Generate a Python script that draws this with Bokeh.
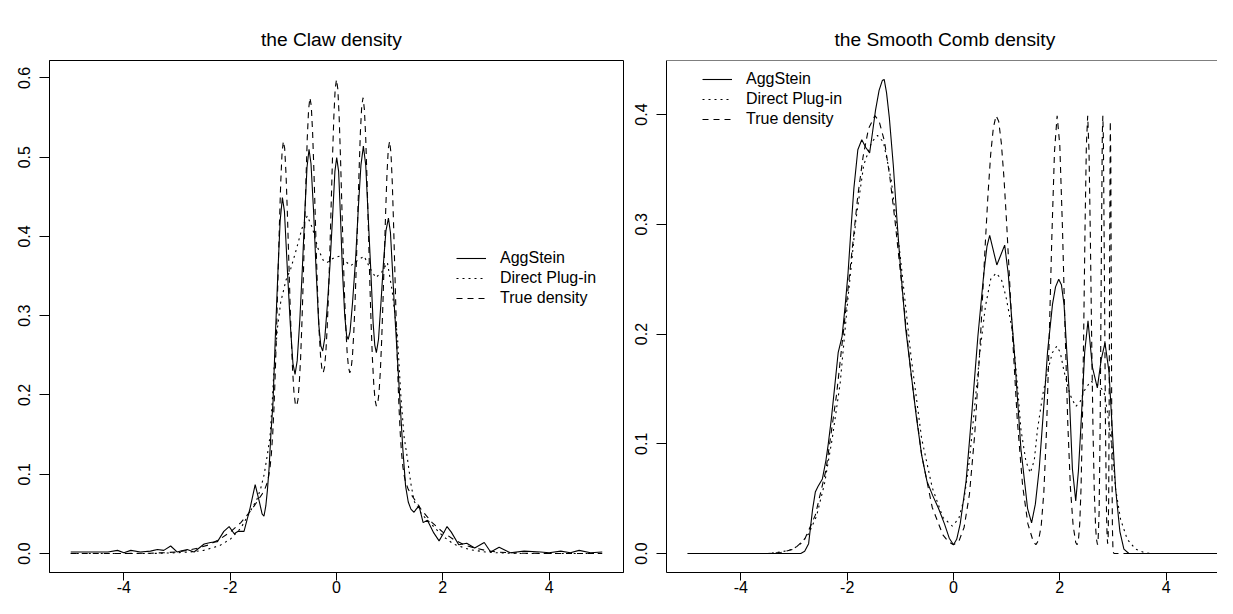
from bokeh.plotting import figure
from bokeh.models import Range1d, FixedTicker, PrintfTickFormatter, Legend, LegendItem, Span, Title
from bokeh.layouts import row
from bokeh.embed import file_html
from bokeh.resources import INLINE

FONT = "Liberation Sans"

titles = ["the Claw density", "the Smooth Comb density"]
legend_labels = ["AggStein", "Direct Plug-in", "True density"]
x_ticks = [-4, -2, 0, 2, 4]
claw_y_ticks = [0.0, 0.1, 0.2, 0.3, 0.4, 0.5, 0.6]
comb_y_ticks = [0.0, 0.1, 0.2, 0.3, 0.4]

# ---- Claw density: (x, density) ----
claw_aggstein = [
    (-5.0, 0.002), (-4.6, 0.002), (-4.3, 0.002), (-4.12, 0.004), (-4.0, 0.001), (-3.87, 0.004),
    (-3.69, 0.002), (-3.5, 0.003), (-3.37, 0.005), (-3.25, 0.004), (-3.12, 0.0095), (-3.0, 0.002),
    (-2.81, 0.005), (-2.68, 0.002), (-2.49, 0.012), (-2.37, 0.014), (-2.24, 0.015), (-2.12, 0.028),
    (-2.02, 0.034), (-1.925, 0.025), (-1.85, 0.028), (-1.74, 0.028), (-1.627, 0.057), (-1.53, 0.087),
    (-1.45, 0.065), (-1.40, 0.050), (-1.365, 0.047), (-1.33, 0.060), (-1.30, 0.080), (-1.27, 0.106),
    (-1.235, 0.150), (-1.195, 0.190), (-1.15, 0.275), (-1.10, 0.359), (-1.06, 0.420), (-1.018, 0.449),
    (-0.98, 0.432), (-0.925, 0.359), (-0.87, 0.290), (-0.82, 0.240), (-0.78, 0.226), (-0.74, 0.243),
    (-0.69, 0.295), (-0.643, 0.359), (-0.60, 0.425), (-0.555, 0.487), (-0.517, 0.510), (-0.48, 0.492),
    (-0.43, 0.430), (-0.385, 0.359), (-0.335, 0.290), (-0.295, 0.262), (-0.26, 0.2555), (-0.22, 0.272),
    (-0.17, 0.315), (-0.122, 0.365), (-0.07, 0.430), (-0.03, 0.482), (0.004, 0.4995), (0.04, 0.482),
    (0.075, 0.425), (0.11, 0.359), (0.155, 0.300), (0.19, 0.275), (0.22, 0.270), (0.255, 0.280),
    (0.30, 0.315), (0.36, 0.372), (0.41, 0.435), (0.46, 0.490), (0.506, 0.514), (0.55, 0.490),
    (0.60, 0.420), (0.644, 0.359), (0.69, 0.290), (0.72, 0.263), (0.75, 0.2535), (0.79, 0.270),
    (0.84, 0.320), (0.882, 0.365), (0.93, 0.407), (0.977, 0.423), (1.015, 0.405), (1.052, 0.359),
    (1.09, 0.310), (1.13, 0.265), (1.196, 0.190), (1.25, 0.130), (1.30, 0.085), (1.35, 0.065),
    (1.40, 0.056), (1.459, 0.052), (1.50, 0.056), (1.553, 0.060), (1.63, 0.039), (1.71, 0.042),
    (1.83, 0.026), (1.93, 0.016), (2.00, 0.024), (2.08, 0.034), (2.16, 0.027), (2.30, 0.011),
    (2.45, 0.013), (2.60, 0.007), (2.78, 0.014), (2.90, 0.002), (3.06, 0.008), (3.27, 0.001),
    (3.53, 0.003), (3.84, 0.002), (4.0, 0.001), (4.22, 0.003), (4.4, 0.001), (4.565, 0.004),
    (4.78, 0.001), (5.0, 0.002),
]
claw_plugin = [
    (-5.0, 0.0), (-3.5, 0.0), (-3.0, 0.001), (-2.75, 0.002), (-2.5, 0.004), (-2.3, 0.008),
    (-2.2, 0.010), (-2.0, 0.018), (-1.8, 0.032), (-1.65, 0.050), (-1.5, 0.068), (-1.43, 0.081),
    (-1.36, 0.100), (-1.30, 0.125), (-1.25, 0.148), (-1.21, 0.190), (-1.176, 0.232), (-1.11, 0.285),
    (-1.05, 0.317), (-0.95, 0.345), (-0.862, 0.359), (-0.75, 0.385), (-0.65, 0.410), (-0.55, 0.426),
    (-0.45, 0.410), (-0.35, 0.385), (-0.25, 0.370), (-0.18, 0.367), (-0.05, 0.373), (0.08, 0.3755),
    (0.18, 0.368), (0.267, 0.363), (0.40, 0.370), (0.52, 0.375), (0.63, 0.360), (0.74, 0.348),
    (0.85, 0.355), (0.958, 0.367), (1.05, 0.330), (1.146, 0.274), (1.21, 0.200), (1.27, 0.148),
    (1.334, 0.120), (1.40, 0.088), (1.46, 0.066), (1.6, 0.050), (1.8, 0.036), (2.0, 0.022),
    (2.2, 0.012), (2.5, 0.005), (2.8, 0.002), (3.0, 0.001), (3.5, 0.0), (5.0, 0.0),
]
claw_true = [
    (-5, 0.0), (-4, 0.0001), (-3.5, 0.0004), (-3.25, 0.001), (-3, 0.002), (-2.8, 0.004), (-2.6, 0.007),
    (-2.4, 0.011), (-2.2, 0.018), (-2, 0.027), (-1.9, 0.033), (-1.8, 0.039), (-1.7, 0.047), (-1.6, 0.055),
    (-1.5, 0.065), (-1.45, 0.070), (-1.4, 0.075), (-1.35, 0.081), (-1.3, 0.090), (-1.275, 0.098),
    (-1.25, 0.109), (-1.225, 0.126), (-1.2, 0.151), (-1.175, 0.186), (-1.15, 0.232), (-1.125, 0.289),
    (-1.1, 0.351), (-1.075, 0.413), (-1.05, 0.467), (-1.025, 0.505), (-1, 0.520), (-0.975, 0.511),
    (-0.95, 0.479), (-0.925, 0.431), (-0.9, 0.375), (-0.875, 0.319), (-0.85, 0.269), (-0.825, 0.230),
    (-0.8, 0.203), (-0.775, 0.189), (-0.75, 0.186), (-0.725, 0.194), (-0.7, 0.215), (-0.675, 0.247),
    (-0.65, 0.292), (-0.625, 0.347), (-0.6, 0.409), (-0.575, 0.470), (-0.55, 0.524), (-0.525, 0.560),
    (-0.5, 0.575), (-0.475, 0.565), (-0.45, 0.532), (-0.425, 0.483), (-0.4, 0.426), (-0.375, 0.369),
    (-0.35, 0.318), (-0.325, 0.278), (-0.3, 0.249), (-0.275, 0.233), (-0.25, 0.228), (-0.225, 0.235),
    (-0.2, 0.254), (-0.175, 0.285), (-0.15, 0.328), (-0.125, 0.381), (-0.1, 0.441), (-0.075, 0.500),
    (-0.05, 0.551), (-0.025, 0.586), (0, 0.598), (0.025, 0.586), (0.05, 0.551), (0.075, 0.500),
    (0.1, 0.441), (0.125, 0.381), (0.15, 0.328), (0.175, 0.285), (0.2, 0.254), (0.225, 0.235),
    (0.25, 0.228), (0.275, 0.233), (0.3, 0.249), (0.325, 0.278), (0.35, 0.318), (0.375, 0.369),
    (0.4, 0.426), (0.425, 0.483), (0.45, 0.532), (0.475, 0.565), (0.5, 0.575), (0.525, 0.560),
    (0.55, 0.524), (0.575, 0.470), (0.6, 0.409), (0.625, 0.347), (0.65, 0.292), (0.675, 0.247),
    (0.7, 0.215), (0.725, 0.194), (0.75, 0.186), (0.775, 0.189), (0.8, 0.203), (0.825, 0.230),
    (0.85, 0.269), (0.875, 0.319), (0.9, 0.375), (0.925, 0.431), (0.95, 0.479), (0.975, 0.511),
    (1, 0.520), (1.025, 0.505), (1.05, 0.467), (1.075, 0.413), (1.1, 0.351), (1.125, 0.289),
    (1.15, 0.232), (1.175, 0.186), (1.2, 0.151), (1.225, 0.126), (1.25, 0.109), (1.275, 0.098),
    (1.3, 0.090), (1.35, 0.081), (1.4, 0.075), (1.45, 0.070), (1.5, 0.065), (1.6, 0.055), (1.7, 0.047),
    (1.8, 0.039), (1.9, 0.033), (2, 0.027), (2.2, 0.018), (2.4, 0.011), (2.6, 0.007), (2.8, 0.004),
    (3, 0.002), (3.25, 0.001), (3.5, 0.0004), (4, 0.0001), (5, 0.0),
]

# ---- Smooth Comb density ----
comb_aggstein = [
    (-5.0, 0.0), (-2.874, 0.0), (-2.8, 0.002), (-2.726, 0.009), (-2.652, 0.040), (-2.6, 0.056),
    (-2.55, 0.061), (-2.467, 0.068), (-2.40, 0.085), (-2.356, 0.100), (-2.30, 0.122), (-2.244, 0.148),
    (-2.17, 0.183), (-2.096, 0.198), (-2.04, 0.225), (-1.985, 0.255), (-1.93, 0.295), (-1.874, 0.333),
    (-1.80, 0.368), (-1.726, 0.377), (-1.65, 0.370), (-1.578, 0.365), (-1.52, 0.385), (-1.467, 0.404),
    (-1.40, 0.422), (-1.34, 0.431), (-1.304, 0.432), (-1.26, 0.420), (-1.207, 0.397), (-1.133, 0.354),
    (-1.059, 0.301), (-1.0, 0.262), (-0.9, 0.205), (-0.8, 0.165), (-0.7, 0.125), (-0.6, 0.090),
    (-0.5, 0.066), (-0.393, 0.053), (-0.281, 0.041), (-0.17, 0.027), (-0.08, 0.014), (0.0, 0.008),
    (0.06, 0.013), (0.126, 0.027), (0.237, 0.066), (0.348, 0.130), (0.459, 0.198), (0.570, 0.255),
    (0.63, 0.280), (0.681, 0.290), (0.74, 0.278), (0.815, 0.263), (0.89, 0.272), (0.963, 0.281),
    (1.03, 0.255), (1.144, 0.184), (1.269, 0.095), (1.394, 0.041), (1.469, 0.028), (1.54, 0.045),
    (1.6125, 0.077), (1.70, 0.135), (1.77, 0.184), (1.8625, 0.227), (1.92, 0.243), (1.98, 0.250),
    (2.03, 0.245), (2.08, 0.227), (2.175, 0.148), (2.2375, 0.077), (2.30, 0.048), (2.35, 0.075),
    (2.394, 0.113), (2.469, 0.184), (2.531, 0.212), (2.6125, 0.170), (2.706, 0.151), (2.78, 0.177),
    (2.85, 0.192), (2.925, 0.166), (2.9875, 0.113), (3.05, 0.059), (3.131, 0.020), (3.206, 0.004),
    (3.3, 0.0), (5.0, 0.0),
]
comb_plugin = [
    (-5.0, 0.0), (-3.5, 0.0), (-3.244, 0.0014), (-3.022, 0.004), (-2.874, 0.009), (-2.726, 0.018),
    (-2.578, 0.034), (-2.43, 0.063), (-2.281, 0.105), (-2.133, 0.155), (-1.985, 0.233), (-1.837, 0.304),
    (-1.689, 0.354), (-1.54, 0.375), (-1.43, 0.381), (-1.319, 0.375), (-1.17, 0.340), (-1.0, 0.270),
    (-0.8, 0.180), (-0.6, 0.105), (-0.4, 0.060), (-0.2, 0.033), (-0.02, 0.025), (0.1, 0.032),
    (0.2, 0.050), (0.3, 0.085), (0.4, 0.135), (0.5, 0.185), (0.6, 0.225), (0.7, 0.250), (0.8, 0.2555),
    (0.9, 0.250), (0.9875, 0.234), (1.1125, 0.202), (1.2, 0.155), (1.269, 0.113), (1.3625, 0.084),
    (1.444, 0.0735), (1.52, 0.085), (1.58, 0.113), (1.68, 0.145), (1.77, 0.166), (1.86, 0.183),
    (1.944, 0.189), (2.01, 0.183), (2.08, 0.166), (2.19, 0.145), (2.30, 0.134), (2.38, 0.138),
    (2.456, 0.148), (2.58, 0.157), (2.706, 0.154), (2.83, 0.148), (2.89, 0.131), (2.9875, 0.095),
    (3.05, 0.059), (3.144, 0.031), (3.27, 0.013), (3.425, 0.004), (3.58, 0.001), (3.7, 0.0), (5.0, 0.0),
]
comb_true = [
    (-5, 0.0), (-4.5, 0.0), (-4, 0.0), (-3.75, 0.0), (-3.5, 0.0001), (-3.25, 0.001), (-3, 0.004),
    (-2.8, 0.013), (-2.6, 0.035), (-2.4, 0.076), (-2.2, 0.145), (-2, 0.234), (-1.8, 0.326),
    (-1.7, 0.362), (-1.6, 0.387), (-1.48, 0.399), (-1.4, 0.394), (-1.3, 0.376), (-1.2, 0.344),
    (-1.1, 0.303), (-1, 0.257), (-0.9, 0.210), (-0.8, 0.164), (-0.6, 0.090), (-0.4, 0.042),
    (-0.2, 0.017), (-0.1, 0.011), (0, 0.008), (0.1, 0.011), (0.2, 0.024), (0.3, 0.054), (0.4, 0.109),
    (0.5, 0.190), (0.6, 0.284), (0.65, 0.328), (0.7, 0.364), (0.75, 0.388), (0.8, 0.399), (0.85, 0.394),
    (0.9, 0.374), (0.95, 0.342), (1.0, 0.301), (1.1, 0.207), (1.2, 0.122), (1.3, 0.062), (1.4, 0.027),
    (1.5, 0.011), (1.55, 0.008), (1.6, 0.012), (1.65, 0.025), (1.7, 0.056), (1.75, 0.112), (1.8, 0.194),
    (1.85, 0.288), (1.9, 0.366), (1.95, 0.399), (2.0, 0.372), (2.05, 0.297), (2.1, 0.203), (2.15, 0.119),
    (2.2, 0.060), (2.25, 0.026), (2.3, 0.010), (2.325, 0.008), (2.35, 0.012), (2.375, 0.027),
    (2.4, 0.060), (2.425, 0.119), (2.45, 0.203), (2.475, 0.297), (2.5, 0.372), (2.525, 0.399),
    (2.55, 0.366), (2.575, 0.288), (2.6, 0.194), (2.625, 0.112), (2.65, 0.055), (2.675, 0.023),
    (2.69, 0.013), (2.71, 0.008), (2.72, 0.011), (2.74, 0.038), (2.76, 0.119), (2.78, 0.259),
    (2.8, 0.382), (2.81, 0.399), (2.82, 0.378), (2.84, 0.251), (2.86, 0.113), (2.88, 0.034),
    (2.89, 0.016), (2.9, 0.009), (2.91, 0.014), (2.92, 0.051), (2.93, 0.148), (2.94, 0.294),
    (2.95, 0.394), (2.96, 0.356), (2.97, 0.216), (2.98, 0.088), (2.99, 0.024), (3.0, 0.004),
    (3.01, 0.001), (3.02, 0.0), (3.1, 0.0), (4, 0.0), (5, 0.0),
]

claw_series = [claw_aggstein, claw_plugin, claw_true]
comb_series = [comb_aggstein, comb_plugin, comb_true]
dashes = ["solid", "2 4", "6 5"]


def xy(pairs):
    return [p[0] for p in pairs], [p[1] for p in pairs]


def r_range(vals):
    lo, hi = min(vals), max(vals)
    d = hi - lo
    return lo - 0.04 * d, hi + 0.04 * d


# layout (figure pixels)
H = 598
TOP = 60
BOTTOM = 26
L_W, L_ML, L_MR = 624, 49, 1
R_W, R_ML, R_MR = 593, 42, 0
L_FRAME = L_W - L_ML - L_MR
R_FRAME = R_W - R_ML - R_MR
FRAME_H = H - TOP - BOTTOM
LEG_ROW_H, LEG_SPACING = 18, 2


def build(series, width, ml, mr, xr, yticks, title, title_left, leg_x, leg_top, full_box):
    all_y = [v for s in series for v in xy(s)[1]]
    ylo, yhi = r_range(all_y)
    p = figure(width=width, height=H, x_range=Range1d(*xr), y_range=Range1d(ylo, yhi),
               output_backend="svg", toolbar_location=None, title=None,
               min_border_left=ml, min_border_right=mr, min_border_top=TOP,
               min_border_bottom=BOTTOM, background_fill_color="white",
               border_fill_color="white")
    p.grid.visible = False

    # real title first, then an invisible spacer (the spacer sits next to the frame)
    p.add_layout(Title(text=title, text_font=FONT, text_font_size="19.2px", text_font_style="normal",
                       text_color="black", align="left", offset=title_left, standoff=21), "above")
    p.add_layout(Title(text=".", text_font_size="1px", text_alpha=0, standoff=17), "above")

    renderers = []
    for s, d in zip(series, dashes):
        x, y = xy(s)
        renderers.append(p.line(x, y, line_color="black", line_width=1.1, line_dash=d))

    leg_h = 3 * LEG_ROW_H + 2 * LEG_SPACING
    leg = Legend(items=[LegendItem(label=lab, renderers=[r]) for lab, r in zip(legend_labels, renderers)],
                 location=(leg_x, FRAME_H + TOP - leg_top - leg_h), padding=0, spacing=LEG_SPACING,
                 margin=0, glyph_width=30, glyph_height=LEG_ROW_H, label_height=LEG_ROW_H,
                 label_standoff=14, border_line_color=None, background_fill_alpha=0,
                 label_text_font=FONT, label_text_font_size="16px", label_text_color="black")
    p.add_layout(leg)

    for ax in (p.xaxis[0], p.yaxis[0]):
        ax.major_tick_in = 0
        ax.minor_tick_line_color = None
        ax.axis_line_color = "black"
        ax.major_tick_line_color = "black"
        ax.major_label_text_font = FONT
        ax.major_label_text_font_size = "16px"
        ax.major_label_text_color = "black"
    p.xaxis.major_tick_out = 8
    p.yaxis.major_tick_out = 10
    p.xaxis.ticker = FixedTicker(ticks=x_ticks)
    p.xaxis.formatter = PrintfTickFormatter(format="%d")
    p.xaxis.major_label_standoff = 0
    p.yaxis.ticker = FixedTicker(ticks=yticks)
    p.yaxis.formatter = PrintfTickFormatter(format="%.1f")
    p.yaxis.major_label_orientation = "vertical"
    p.yaxis.major_label_standoff = 9

    if full_box:
        p.outline_line_color = "black"
        p.outline_line_alpha = 1
        p.outline_line_width = 1
    else:
        p.outline_line_color = None
        p.add_layout(Span(location=yhi, dimension="width", line_color="black", line_width=1))
    return p


# x ranges: R style 4% extension; right panel is cut off at the page edge (same scale)
all_x = [v for s in claw_series for v in xy(s)[0]]
lx = r_range(all_x)
px_per_unit = L_FRAME / (lx[1] - lx[0])
rx = (lx[0], lx[0] + R_FRAME / px_per_unit)

p1 = build(claw_series, L_W, L_ML, L_MR, lx, claw_y_ticks, titles[0], 211.5, 407, 249, True)
p2 = build(comb_series, R_W, R_ML, R_MR, rx, comb_y_ticks, titles[1], 168, 36, 70, False)

layout = row(p1, p2)
open("out.html", "w").write(file_html(layout, INLINE))
